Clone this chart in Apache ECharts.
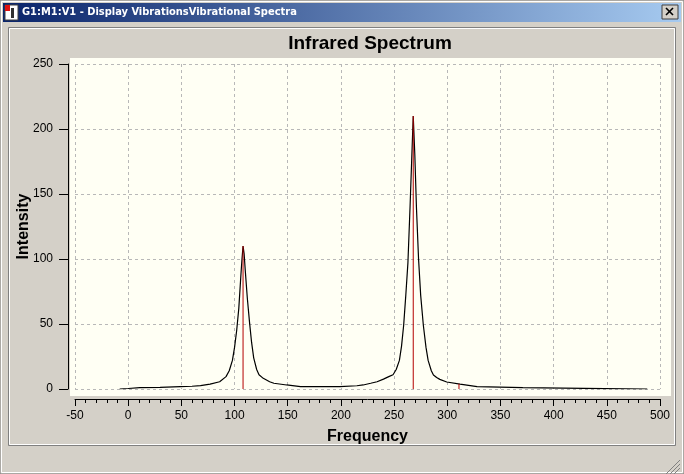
<!DOCTYPE html>
<html>
<head>
<meta charset="utf-8">
<title>Infrared Spectrum</title>
<script src="https://cdn.jsdelivr.net/npm/echarts@6/dist/echarts.min.js"></script>
<style>
  html, body { margin: 0; padding: 0; background: #d4d0c8; }
  #main { width: 684px; height: 474px; }
</style>
</head>
<body>
<div id="main"></div>
<script>
// spectrum curve (frequency, intensity)
let freq = [-8, 0, 11, 30, 49, 60, 68, 77, 86, 92, 95, 98, 100, 102, 104, 106, 107, 108, 109, 110,
    112, 114, 116, 118, 120.8, 123, 127, 133, 137, 149, 162, 199, 215, 221, 228, 234, 240, 245, 249,
    252, 255, 257, 259, 261, 263, 265, 266.5, 268, 269.5, 271, 273, 275, 277.5, 280, 282, 285, 287,
    290, 293, 299.5, 312, 328, 371, 448, 488];
let intensity = [0, 0.4, 1.0, 1.2, 1.8, 2.1, 2.6, 3.8, 5.6, 9.5, 14, 22, 32, 45, 62, 88, 100, 110, 104, 92,
    70, 52, 36, 24, 15, 11, 8.2, 5.6, 4.4, 3.1, 1.8, 1.8, 2.5, 3.1, 4.4, 5.6, 7.6, 9.5, 11,
    15, 22, 33, 49, 72, 97, 140, 175, 210, 180, 140, 100, 72, 49, 32, 22, 14, 10.8,
    8.8, 7.4, 5.4, 3.8, 1.8, 1.0, 0.3, 0];

// stick spectrum (red lines)
let stickFreq = [108, 268, 311];
let stickInt = [110, 210, 4];

// axis ticks
let xTicks = { min: -50, max: 500, step: 50 };
let yTicks = { min: 0, max: 250, step: 50 };

let curveData = freq.map((f, i) => [f, intensity[i]]);
let stickData = stickFreq.map((f, i) => [f, stickInt[i]]);

let font = "'Liberation Sans', Arial, sans-serif";

// window frame drawn around the chart
let windowChrome = [
    { type: 'rect', z: -20, shape: { x: 0, y: 0, width: 684, height: 474 },
      style: { fill: '#d4d0c8', stroke: '#808080', lineWidth: 1 } },
    { type: 'rect', z: -19, shape: { x: 1.5, y: 1.5, width: 681, height: 471 },
      style: { fill: 'none', stroke: '#ffffff', lineWidth: 1 } },
    { type: 'rect', z: -18, shape: { x: 3, y: 3, width: 678, height: 19 },
      style: { fill: new echarts.graphic.LinearGradient(0, 0, 1, 0, [
          { offset: 0, color: '#0a246a' }, { offset: 1, color: '#a6caf0' }]) } },
    // icon
    { type: 'rect', z: -17, shape: { x: 5, y: 5, width: 13, height: 15 },
      style: { fill: '#ffffff', stroke: '#404040', lineWidth: 1 } },
    { type: 'rect', z: -16, shape: { x: 5, y: 5, width: 5, height: 6 }, style: { fill: '#e01010' } },
    { type: 'rect', z: -16, shape: { x: 11, y: 8, width: 3, height: 10 }, style: { fill: '#303030' } },
    { type: 'text', z: -16, style: { x: 22, y: 12, text: 'G1:M1:V1 - Display VibrationsVibrational Spectra',
      fill: '#ffffff', font: "bold 11px 'DejaVu Sans Condensed', 'DejaVu Sans', sans-serif", textVerticalAlign: 'middle' } },
    // close button
    { type: 'rect', z: -16, shape: { x: 662, y: 5, width: 16, height: 14 },
      style: { fill: '#d4d0c8', stroke: '#404040', lineWidth: 1 } },
    { type: 'line', z: -15, shape: { x1: 666, y1: 8, x2: 673, y2: 15 }, style: { stroke: '#000', lineWidth: 1.6 } },
    { type: 'line', z: -15, shape: { x1: 673, y1: 8, x2: 666, y2: 15 }, style: { stroke: '#000', lineWidth: 1.6 } },
    // chart panel
    { type: 'rect', z: -15, shape: { x: 8.5, y: 27.5, width: 667, height: 418 },
      style: { fill: '#d4d0c8', stroke: '#808080', lineWidth: 1 } },
    { type: 'rect', z: -15, shape: { x: 9.5, y: 28.5, width: 665, height: 416 },
      style: { fill: 'none', stroke: '#ffffff', lineWidth: 1 } },
    // plot background
    { type: 'rect', z: -10, shape: { x: 70, y: 58, width: 601, height: 338 },
      style: { fill: '#fffff4' } },
    // resize grip
    { type: 'line', z: -15, shape: { x1: 680, y1: 460, x2: 666, y2: 474 }, style: { stroke: '#808080', lineWidth: 1 } },
    { type: 'line', z: -15, shape: { x1: 680, y1: 464, x2: 670, y2: 474 }, style: { stroke: '#808080', lineWidth: 1 } },
    { type: 'line', z: -15, shape: { x1: 680, y1: 468, x2: 674, y2: 474 }, style: { stroke: '#808080', lineWidth: 1 } }
];

let option = {
    animation: false,
    backgroundColor: '#d4d0c8',
    title: {
        text: 'Infrared Spectrum',
        left: 365,
        top: 29,
        textAlign: 'center',
        textStyle: { fontFamily: font, fontWeight: 'bold', fontSize: 19, color: '#000' }
    },
    graphic: windowChrome,
    grid: { left: 75, right: 24, top: 64, bottom: 85, containLabel: false, outerBoundsMode: 'none' },
    xAxis: {
        type: 'value',
        min: xTicks.min,
        max: xTicks.max,
        interval: xTicks.step,
        offset: 10,
        name: 'Frequency',
        nameLocation: 'middle',
        nameGap: 30,
        nameTextStyle: { fontFamily: font, fontWeight: 'bold', fontSize: 16, color: '#000' },
        axisLine: { onZero: false, lineStyle: { color: '#000', width: 1 } },
        axisTick: { length: 7, lineStyle: { color: '#000' } },
        minorTick: { show: true, splitNumber: 5, length: 4, lineStyle: { color: '#000' } },
        axisLabel: { fontFamily: font, fontSize: 12, color: '#000', margin: 11 },
        splitLine: { show: true, lineStyle: { color: '#b8b8b8', type: [3, 3], width: 1 } }
    },
    yAxis: {
        type: 'value',
        min: yTicks.min,
        max: yTicks.max,
        interval: yTicks.step,
        offset: 7,
        name: 'Intensity',
        nameLocation: 'middle',
        nameGap: 36,
        nameMoveOverlap: false,
        nameRotate: 90,
        nameTextStyle: { fontFamily: font, fontWeight: 'bold', fontSize: 16, color: '#000' },
        axisLine: { show: true, onZero: false, lineStyle: { color: '#000', width: 1 } },
        axisTick: { show: true, length: 9, lineStyle: { color: '#000' } },
        axisLabel: { fontFamily: font, fontSize: 12, color: '#000', margin: 15 },
        splitLine: { show: true, lineStyle: { color: '#b8b8b8', type: [3, 3], width: 1 } }
    },
    series: [
        {
            name: 'spectrum',
            type: 'line',
            data: curveData,
            showSymbol: false,
            smooth: false,
            z: 3,
            lineStyle: { color: '#000', width: 1.2 }
        },
        {
            name: 'sticks',
            type: 'custom',
            data: stickData,
            z: 4,
            renderItem: function (params, api) {
                let top = api.coord([api.value(0), api.value(1)]);
                let bottom = api.coord([api.value(0), 0]);
                return {
                    type: 'line',
                    shape: { x1: top[0], y1: top[1], x2: bottom[0], y2: bottom[1] },
                    style: { stroke: '#b40000', lineWidth: 1 }
                };
            }
        }
    ]
};

let myChart = echarts.init(document.getElementById('main'));
myChart.setOption(option);
</script>
</body>
</html>
